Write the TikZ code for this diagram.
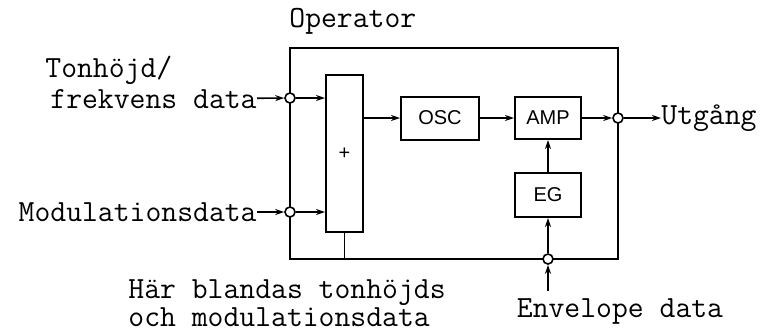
\documentclass[tikz,border=0pt]{standalone}
\usepackage{fontspec}
\setmainfont{Liberation Serif}
\setsansfont{Liberation Sans}
\usetikzlibrary{arrows.meta, positioning}

\begin{document}
\begin{tikzpicture}[
  x=0.5pt, y=-0.5pt,
  lbl/.style={font=\ttfamily\fontsize{15.4}{11}\selectfont, inner sep=0pt, align=left},
  frame/.style={draw, line width=1.2pt, minimum width=164pt, minimum height=105.5pt, inner sep=0pt},
  blk/.style={draw, line width=1pt, font=\sffamily\fontsize{10}{11}\selectfont, inner sep=0pt},
  port/.style={draw, circle, line width=0.8pt, fill=white, minimum size=5pt, inner sep=0pt},
  arr/.style={-{Stealth[length=4.5pt, width=3pt]}, line width=0.8pt}
]
\useasboundingbox (0,0) rectangle (760,334);

\node[frame] (op) at (454,153.5) {};
\node[blk, minimum width=18.5pt, minimum height=78.5pt] (mix) at (344.5,153.5) {+};
\node[blk, minimum width=39pt, minimum height=21.5pt] (osc) at (440,118) {OSC};
\node[blk, minimum width=33pt, minimum height=21pt] (amp) at (548,118) {AMP};
\node[blk, minimum width=33pt, minimum height=22pt] (eg) at (548,195) {EG};
\node[port] (pin) at (290,98) {};
\node[port] (min) at (290,212) {};
\node[port] (out) at (618,118) {};
\node[port] (envin) at (548,259) {};
\coordinate (envsrc) at (548,291);

\node[lbl, anchor=west] (oplbl) at (289,21) {Operator};
\node[lbl, anchor=west] (tone) at (45,70) {Tonhöjd/};
\node[lbl, anchor=east] (freq) at (257,99) {frekvens data};
\node[lbl, anchor=east] (mod) at (257,212) {Modulationsdata};
\node[lbl, anchor=west] (utg) at (661,118) {Utgång};
\node[lbl, anchor=north] (env) at (620,298) {Envelope data};
\node[lbl, anchor=north west] (note) at (128,279) {Här blandas tonhöjds\\och modulationsdata};

\draw[arr] (freq) -- (pin);
\draw[arr] (pin) -- (mix.west |- pin);
\draw[arr] (mod) -- (min);
\draw[arr] (min) -- (mix.west |- min);
\draw[arr] (mix.east |- osc) -- (osc);
\draw[arr] (osc) -- (amp);
\draw[arr] (amp) -- (out);
\draw[arr] (out) -- (utg);
\draw[arr] (envsrc) -- (envin);
\draw[arr] (envin) -- (eg);
\draw[arr] (eg) -- (amp);
\draw[line width=0.5pt] (mix.south) -- (mix.south |- op.south);
\end{tikzpicture}
\end{document}
